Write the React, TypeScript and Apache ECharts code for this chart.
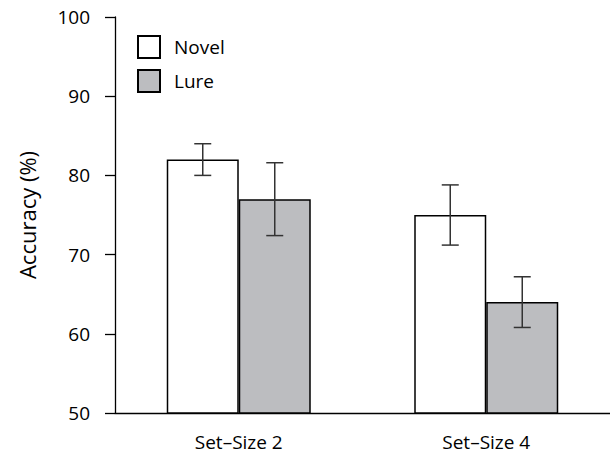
import React, { useEffect, useRef } from "react";
import * as echarts from "echarts";

const categories = ["Set\u2013Size 2", "Set\u2013Size 4"];
const novelValues = [82, 75];
const lureValues = [77, 64];
const novelHigh = [84, 78.8];
const novelLow = [80, 71.2];
const lureHigh = [81.6, 67.2];
const lureLow = [72.4, 60.8];
const yTicks = { min: 50, max: 100, interval: 10 };

const FONT = "'Open Sans', sans-serif";

function errorSeries(name: string, high: number[], low: number[], offset: number) {
  return {
    type: "custom",
    name,
    z: 10,
    data: high.map((h, i) => [i, h, low[i]]),
    encode: { x: 0, y: [1, 2] },
    renderItem: (params: any, api: any) => {
      const ci = api.value(0);
      const p1 = api.coord([ci, api.value(1)]);
      const p2 = api.coord([ci, api.value(2)]);
      const x = p1[0] + offset;
      const hw = 8.5;
      const style = { stroke: "#333", lineWidth: 1.5 };
      return {
        type: "group",
        children: [
          { type: "line", shape: { x1: x, y1: p1[1], x2: x, y2: p2[1] }, style },
          { type: "line", shape: { x1: x - hw, y1: p1[1], x2: x + hw, y2: p1[1] }, style },
          { type: "line", shape: { x1: x - hw, y1: p2[1], x2: x + hw, y2: p2[1] }, style },
        ],
      };
    },
  };
}

export default function App() {
  const ref = useRef<HTMLDivElement>(null);
  useEffect(() => {
    if (!ref.current) return;
    const chart = echarts.init(ref.current, undefined, { renderer: "svg" });
    chart.setOption({
      animation: false,
      backgroundColor: "#fff",
      grid: { left: 115, top: 17, width: 500, height: 396 },
      legend: {
        orient: "vertical",
        left: 137,
        top: 35,
        padding: 0,
        itemWidth: 22,
        itemHeight: 22,
        itemGap: 10,
        icon: "rect",
        data: ["Novel", "Lure"],
        textStyle: {
          fontFamily: FONT,
          fontSize: 19,
          lineHeight: 22,
          color: "#000",
          padding: [0, 0, 0, 9],
        },
      },
      xAxis: {
        type: "category",
        data: categories,
        axisLine: { lineStyle: { color: "#000", width: 1.3 } },
        axisTick: { length: 9, lineStyle: { color: "#000", width: 1.3 } },
        axisLabel: { fontFamily: FONT, fontSize: 19, color: "#000", margin: 19 },
      },
      yAxis: {
        type: "value",
        min: yTicks.min,
        max: yTicks.max,
        interval: yTicks.interval,
        name: "Accuracy (%)",
        nameLocation: "middle",
        nameGap: 77,
        nameTextStyle: { fontFamily: FONT, fontSize: 22, color: "#000" },
        axisLine: { show: true, lineStyle: { color: "#000", width: 1.3 } },
        axisTick: { show: true, length: 10, lineStyle: { color: "#000", width: 1.3 } },
        axisLabel: { fontFamily: FONT, fontSize: 19, color: "#000", margin: 25 },
        splitLine: { show: false },
      },
      series: [
        {
          type: "bar",
          name: "Novel",
          data: novelValues,
          barWidth: 72,
          barGap: "0%",
          itemStyle: { color: "#fff", borderColor: "#000", borderWidth: 1.5 },
        },
        {
          type: "bar",
          name: "Lure",
          data: lureValues,
          barWidth: 72,
          barGap: "0%",
          itemStyle: { color: "#bcbdc0", borderColor: "#000", borderWidth: 1.5 },
        },
        errorSeries("NovelErr", novelHigh, novelLow, -36),
        errorSeries("LureErr", lureHigh, lureLow, 36),
      ],
    });
    return () => chart.dispose();
  }, []);
  return (
    <div
      ref={ref}
      style={{ position: "fixed", left: 0, top: 0, width: 610, height: 454 }}
    />
  );
}
